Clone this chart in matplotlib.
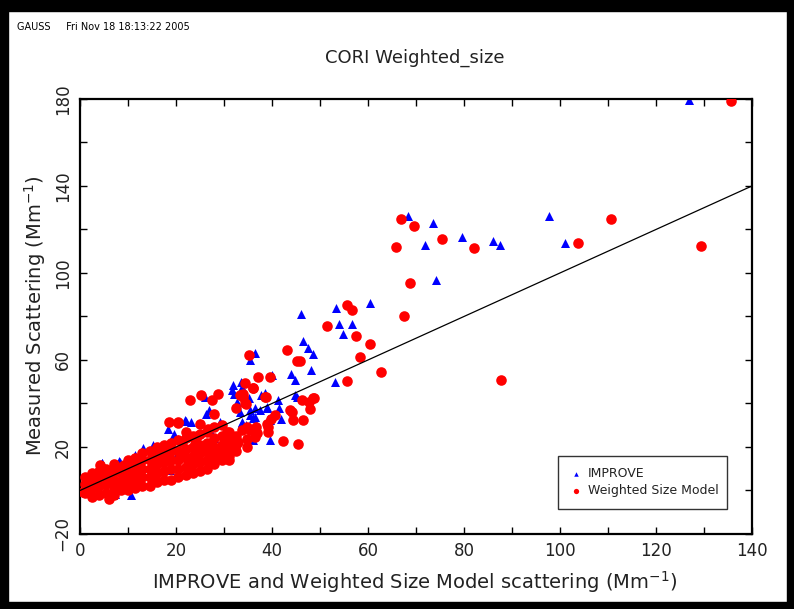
import matplotlib
matplotlib.use("Agg")
import matplotlib.pyplot as plt
from matplotlib.patches import Rectangle
import numpy as np

# IMPROVE points (x = model scattering, y = measured)
improve_x = [126.9, 68.4, 73.5, 71.9, 79.6, 86.1, 87.4, 97.7, 101.1, 74.2,
             53.3, 60.5, 53.9, 56.6, 54.7, 46.0, 46.4, 47.4, 48.6, 48.1, 53.1,
             36.5, 35.4, 44.0, 44.8, 39.9, 33.7, 38.5, 37.8, 45.1, 35.1, 41.3, 41.5,
             37.4, 39.0, 35.4, 36.5, 39.2, 41.8, 33.7, 34.6,
             33.5, 31.6, 32.1, 26.0, 32.8, 38.9, 26.9, 36.5, 33.3, 35.4, 22.0, 23.1,
             29.2, 33.7, 39.6, 36.1, 39.6, 20.5, 31.9, 44.8, 36.1, 26.2, 21.9,
             0.9, 4.6, 3.5, 8.2, 11.5, 13.2, 15.3, 7.3, 10.6, 18.75, 18.4, 19.6,
             8.3, 4.5, 6.9,
             5.0, 10.0, 15.0, 20.0, 25.0, 28.0, 12.0, 17.0, 22.0, 27.0, 30.0]
improve_y = [179.3, 126.0, 122.9, 113.0, 116.5, 114.8, 113.0, 126.0, 113.9, 96.9,
             84.0, 86.1, 76.6, 76.6, 72.0, 81.2, 68.5, 65.6, 62.8, 55.5, 50.1,
             63.1, 60.1, 53.6, 51.0, 52.9, 47.8, 44.7, 43.7, 43.2, 42.4, 41.7, 37.8,
             37.1, 37.8, 36.8, 34.0, 33.0, 33.0, 30.9, 30.3,
             50.1, 46.0, 44.5, 43.2, 40.6, 38.6, 36.8, 37.8, 36.0, 34.8, 31.9, 31.4,
             31.4, 31.4, 32.2, 33.2, 23.0, 23.8, 48.3, 43.7, 23.0, 35.3, 32.2,
             1.8, 12.6, 7.7, 13.5, 16.4, 19.6, 20.7, -1.8, -2.3, 9.2, 28.4, 26.1,
             13.0, 12.6, -2.3,
             4.0, 9.0, 12.0, 16.0, 20.0, 24.0, 15.0, 18.0, 25.0, 28.0, 22.0]

# Weighted size model points
model_x = [135.6, 66.8, 69.6, 65.9, 75.4, 82.1, 68.75, 67.4, 110.6, 103.7, 129.3, 62.7, 87.7,
           55.6, 56.7, 51.5, 57.6, 60.4, 58.4, 55.6, 45.8,
           35.3, 43.2, 45.3, 37.0, 39.6, 34.4, 36.0, 33.8, 38.75, 34.4, 48.75, 47.6, 46.2,
           47.9, 43.75, 44.1, 44.4, 46.5, 40.6, 39.7, 39.2, 36.7, 34.7,
           22.9, 25.2, 28.8, 27.4, 33.3, 34.0, 34.5, 32.5, 28.0, 20.5, 25.0, 26.7, 30.6,
           33.7, 35.4, 36.5, 34.7, 33.0, 34.7, 39.1, 30.9, 28.8, 26.7, 24.0,
           4.2, 6.1, 18.5, 20.5, 33.9, 36.1, 38.5, 48.6, 42.2, 45.5, 31.1, 0.7, 38.9, 36.8,
           1.0, 1.0, 1.0,
           2.5, 2.5, 2.5, 2.5,
           4.0, 4.0, 4.0, 4.0,
           5.5, 5.5, 5.5, 5.5,
           7.0, 7.0, 7.0, 7.0, 7.0,
           8.5, 8.5, 8.5, 8.5,
           10.0, 10.0, 10.0, 10.0, 10.0,
           11.5, 11.5, 11.5, 11.5, 11.5,
           13.0, 13.0, 13.0, 13.0, 13.0,
           14.5, 14.5, 14.5, 14.5, 14.5,
           16.0, 16.0, 16.0, 16.0, 16.0,
           17.5, 17.5, 17.5, 17.5, 17.5,
           19.0, 19.0, 19.0, 19.0, 19.0,
           20.5, 20.5, 20.5, 20.5, 20.5,
           22.0, 22.0, 22.0, 22.0, 22.0, 22.0,
           23.5, 23.5, 23.5, 23.5, 23.5,
           25.0, 25.0, 25.0, 25.0, 25.0,
           26.5, 26.5, 26.5, 26.5, 26.5,
           28.0, 28.0, 28.0, 28.0, 28.0,
           29.5, 29.5, 29.5, 29.5, 29.5,
           31.0, 31.0, 31.0, 31.0,
           32.5, 32.5, 32.5,
           3.2, 6.3, 9.2, 12.3, 15.2, 18.3, 21.2, 24.3, 27.2, 30.2,
           3.2, 6.3, 9.2, 12.3, 15.2, 18.3, 21.2, 24.3, 27.2, 30.2]
model_y = [178.9, 124.6, 121.8, 111.9, 115.6, 111.6, 95.3, 80.0, 124.6, 113.7, 112.6, 54.4, 50.6,
           85.1, 82.8, 75.5, 70.8, 67.4, 61.5, 50.3, 59.3,
           62.1, 64.8, 59.3, 52.1, 52.1, 49.3, 47.0, 43.7, 43.2, 40.1, 42.4, 40.9, 41.4,
           37.6, 36.8, 36.0, 32.2, 32.2, 34.9, 33.0, 29.4, 29.1, 29.1,
           41.7, 44.0, 44.5, 41.4, 43.7, 43.2, 39.8, 38.0, 35.3, 30.9, 30.7, 28.4, 26.8,
           27.6, 27.6, 24.5, 23.8, 22.2, 20.2, 26.8, 14.6, 18.4, 19.9, 23.0,
           11.5, -3.8, 31.4, 31.4, 44.5, 47.2, 43.2, 42.6, 22.7, 21.5, 13.8, -0.5, 30.7, 26.3,
           -1.0, 3.0, 6.0,
           -3.0, 1.0, 5.0, 8.0,
           -2.0, 2.0, 6.0, 9.0,
           -1.0, 3.0, 7.0, 10.0,
           -2.0, 1.0, 5.0, 9.0, 12.0,
           0.0, 4.0, 8.0, 11.0,
           0.0, 3.0, 7.0, 11.0, 14.0,
           1.0, 5.0, 9.0, 13.0, 15.0,
           2.0, 6.0, 10.0, 14.0, 17.0,
           2.0, 6.0, 10.0, 14.0, 18.0,
           4.0, 8.0, 12.0, 16.0, 20.0,
           5.0, 9.0, 13.0, 17.0, 21.0,
           5.0, 10.0, 14.0, 18.0, 22.0,
           6.0, 10.0, 14.0, 18.0, 23.0,
           7.0, 11.0, 15.0, 19.0, 24.0, 27.0,
           8.0, 12.0, 16.0, 20.0, 25.0,
           9.0, 13.0, 17.0, 21.0, 26.0,
           10.0, 14.0, 18.0, 22.0, 27.0,
           12.0, 16.0, 20.0, 24.0, 29.0,
           14.0, 17.0, 21.0, 25.0, 30.0,
           16.0, 20.0, 23.0, 27.0,
           18.0, 21.0, 25.0,
           1.5, 4.0, 6.5, 9.0, 11.5, 14.0, 16.5, 19.0, 21.5, 24.5,
           5.5, 8.5, 11.5, 14.5, 17.5, 20.5, 22.5, 25.0, 19.0, 21.0]

one_to_one = [0, 140]
x_ticks = [0, 20, 40, 60, 80, 100, 120, 140]
y_ticks = [-20, 20, 60, 100, 140, 180]

txt = '#222222'
fig = plt.figure(figsize=(7.94, 6.09), dpi=100)
ax = fig.add_axes([0.1008, 0.1232, 0.8463, 0.7143])

ax.scatter(improve_x, improve_y, marker='^', s=42, color='#0000ff', linewidths=0,
           label='IMPROVE', zorder=2)
ax.scatter(model_x, model_y, marker='o', s=58, color='#ff0000', linewidths=0,
           label='Weighted Size Model', zorder=3)
ax.plot(one_to_one, one_to_one, color='black', lw=0.9, zorder=4)

ax.set_xlim(0, 140)
ax.set_ylim(-20, 180)
ax.set_xticks(x_ticks)
ax.set_xticks(np.arange(10, 140, 20), minor=True)
ax.set_yticks(y_ticks)
ax.set_yticks([0, 40, 80, 120, 160], minor=True)
ax.set_yticklabels(['\u221220', '20', '60', '100', '140', '180'], rotation=90, va='center')
ax.tick_params(which='both', direction='in', length=5, width=1, top=True, right=True,
               labelsize=12, labelcolor=txt, color='black')
ax.tick_params(axis='x', pad=6)
ax.tick_params(axis='y', pad=6)
for s in ax.spines.values():
    s.set_linewidth(1.6)

leg = ax.legend(loc='lower left', bbox_to_anchor=(0.702, 0.044, 0.27, 0.126), mode='expand',
                fancybox=False, edgecolor='black', fontsize=9, markerscale=0.5,
                handletextpad=0.5, borderpad=0.9, labelspacing=0.35, handlelength=1.0)
leg.get_frame().set_linewidth(1.0)
for t in leg.get_texts():
    t.set_color(txt)

fig.text(0.5227, 0.905, 'CORI Weighted_size', ha='center', va='center', fontsize=13, color=txt)
fig.text(0.5227, 0.044, 'IMPROVE and Weighted Size Model scattering (Mm$^{-1}$)',
         ha='center', va='center', fontsize=14, color=txt)
fig.text(0.044, 0.481, 'Measured Scattering (Mm$^{-1}$)', ha='center', va='center',
         rotation=90, fontsize=14, color=txt)
fig.text(0.0214, 0.9557, 'GAUSS     Fri Nov 18 18:13:22 2005', ha='left', va='center',
         fontsize=7, color='black')

# black frame around the page
for r in [(0, 0, 0.0101, 1), (0, 1 - 0.018, 1, 0.018), (0.9912, 0, 0.0088, 1), (0, 0, 1, 0.0115)]:
    fig.patches.append(Rectangle(r[:2], r[2], r[3], transform=fig.transFigure,
                                 color='black', zorder=10))

fig.savefig('out.png', dpi=100)
